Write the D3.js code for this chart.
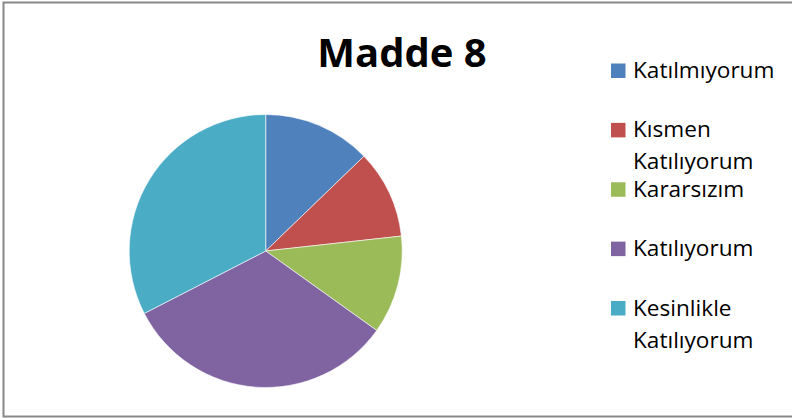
<!DOCTYPE html>
<html lang="tr">
<head>
    <meta charset="UTF-8">
    <title>Madde 8</title>
    <script src="https://d3js.org/d3.v7.min.js"></script>
    <style>
        body { margin: 0; background: #fff; }
        text { font-family: "Open Sans", sans-serif; fill: #000; }
    </style>
</head>
<body>
<svg width="792" height="418"></svg>
<script>
    var categories = ["Katılmıyorum", "Kısmen Katılıyorum", "Kararsızım", "Katılıyorum", "Kesinlikle Katılıyorum"];
    var values = [11, 9, 10, 28, 28];
    var colors = ["#4F81BD", "#C0504D", "#9BBB59", "#8064A2", "#4BACC6"];
    var title = "Madde 8";

    var svg = d3.select("svg");
    var width = 792, height = 418;

    // chart frame
    svg.append("rect")
        .attr("x", 3.5).attr("y", 2.5)
        .attr("width", 800).attr("height", 414)
        .attr("fill", "#fff")
        .attr("stroke", "#888")
        .attr("stroke-width", 2);

    svg.append("text")
        .attr("x", 402).attr("y", 66.5)
        .attr("text-anchor", "middle")
        .attr("font-size", 40)
        .attr("font-weight", "bold")
        .text(title);

    var data = categories.map(function (c, i) {
        return {name: c, value: values[i], color: colors[i]};
    });

    var pie = d3.pie().sort(null).value(function (d) { return d.value; });
    var arc = d3.arc().innerRadius(0).outerRadius(136.5);

    var g = svg.append("g").attr("transform", "translate(265.7,251)");
    g.selectAll("path")
        .data(pie(data))
        .enter()
        .append("path")
        .attr("d", arc)
        .attr("fill", function (d) { return d.data.color; })
        .attr("stroke", "#fff")
        .attr("stroke-width", 0.6);

    // legend
    var ly = d3.scaleLinear().domain([0, categories.length - 1]).range([63.5, 301]);
    var legend = svg.append("g");
    var item = legend.selectAll(".item")
        .data(data)
        .enter()
        .append("g")
        .attr("class", "item")
        .attr("transform", function (d, i) { return "translate(611," + ly(i) + ")"; });

    item.append("rect")
        .attr("width", 14.5).attr("height", 14.5)
        .attr("fill", function (d) { return d.color; });

    item.each(function (d) {
        var t = d3.select(this).append("text")
            .attr("x", 22).attr("y", 14.5)
            .attr("font-size", 22.6);
        var words = d.name.split(" ");
        var line = [];
        var tspan = t.append("tspan").attr("x", 22);
        words.forEach(function (w) {
            line.push(w);
            tspan.text(line.join(" "));
            if (tspan.node().getComputedTextLength() > 156 && line.length > 1) {
                line.pop();
                tspan.text(line.join(" "));
                line = [w];
                tspan = t.append("tspan").attr("x", 22).attr("dy", 32).text(w);
            }
        });
    });
</script>
</body>
</html>
